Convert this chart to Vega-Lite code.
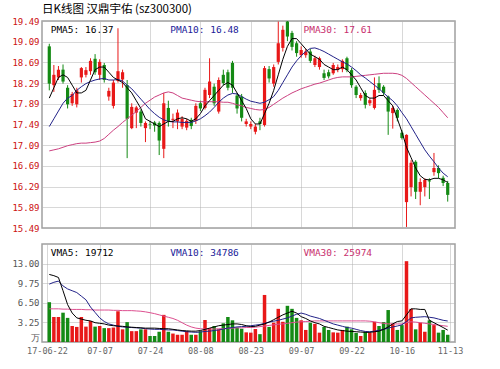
{
"$schema": "https://vega.github.io/schema/vega-lite/v6.json",
"padding": {"left": 11, "top": 2, "right": 0, "bottom": 0},
"background": "#ffffff",
"datasets": {
"k": [
{"i":0,"o":19.0,"h":19.05,"l":18.15,"c":18.28,"v":6.6,"m5":18.0,"m10":17.45,"m30":16.98,"vm5":11.2,"vm10":9.6,"vm30":5.5},
{"i":1,"o":18.25,"h":18.64,"l":18.12,"c":18.45,"v":4.15,"m5":18.2,"m10":17.6,"m30":17.0,"vm5":11.0,"vm10":9.9,"vm30":5.5},
{"i":2,"o":18.4,"h":18.62,"l":18.35,"c":18.55,"v":4.15,"m5":18.4,"m10":17.75,"m30":17.02,"vm5":10.7,"vm10":10.1,"vm30":5.5},
{"i":3,"o":18.55,"h":18.65,"l":18.28,"c":18.32,"v":4.86,"m5":18.45,"m10":17.9,"m30":17.05,"vm5":8.5,"vm10":9.3,"vm30":5.45},
{"i":4,"o":18.2,"h":18.25,"l":17.8,"c":17.88,"v":4.0,"m5":18.4,"m10":18.0,"m30":17.08,"vm5":6.2,"vm10":8.8,"vm30":5.45},
{"i":5,"o":17.9,"h":18.12,"l":17.85,"c":18.08,"v":2.65,"m5":18.25,"m10":18.05,"m30":17.1,"vm5":4.8,"vm10":8.5,"vm30":5.4},
{"i":6,"o":17.88,"h":18.2,"l":17.82,"c":18.15,"v":2.5,"m5":18.1,"m10":18.15,"m30":17.12,"vm5":4.0,"vm10":8.2,"vm30":5.4},
{"i":7,"o":18.4,"h":18.6,"l":18.3,"c":18.58,"v":4.15,"m5":18.1,"m10":18.22,"m30":17.13,"vm5":3.8,"vm10":7.6,"vm30":5.4},
{"i":8,"o":18.45,"h":18.6,"l":18.4,"c":18.54,"v":2.55,"m5":18.15,"m10":18.28,"m30":17.13,"vm5":3.6,"vm10":7.0,"vm30":5.35},
{"i":9,"o":18.52,"h":18.77,"l":18.45,"c":18.72,"v":3.48,"m5":18.35,"m10":18.32,"m30":17.14,"vm5":3.5,"vm10":5.8,"vm30":5.35},
{"i":10,"o":18.76,"h":18.85,"l":18.45,"c":18.5,"v":2.55,"m5":18.55,"m10":18.35,"m30":17.15,"vm5":3.2,"vm10":4.9,"vm30":5.3},
{"i":11,"o":18.45,"h":18.75,"l":18.35,"c":18.7,"v":2.65,"m5":18.6,"m10":18.37,"m30":17.17,"vm5":3.1,"vm10":4.0,"vm30":5.3},
{"i":12,"o":18.64,"h":18.68,"l":18.3,"c":18.35,"v":2.3,"m5":18.6,"m10":18.38,"m30":17.22,"vm5":3.0,"vm10":3.4,"vm30":5.3},
{"i":13,"o":18.03,"h":18.2,"l":17.95,"c":18.14,"v":2.3,"m5":18.5,"m10":18.35,"m30":17.3,"vm5":2.8,"vm10":3.0,"vm30":5.3},
{"i":14,"o":17.85,"h":18.35,"l":17.8,"c":18.3,"v":2.4,"m5":18.4,"m10":18.35,"m30":17.38,"vm5":2.7,"vm10":2.8,"vm30":5.25},
{"i":15,"o":18.33,"h":19.35,"l":18.3,"c":18.52,"v":5.1,"m5":18.35,"m10":18.36,"m30":17.45,"vm5":2.65,"vm10":2.6,"vm30":5.25},
{"i":16,"o":18.36,"h":18.55,"l":18.2,"c":18.5,"v":2.1,"m5":18.3,"m10":18.33,"m30":17.53,"vm5":2.6,"vm10":2.5,"vm30":5.2},
{"i":17,"o":18.25,"h":18.35,"l":16.84,"c":17.6,"v":3.3,"m5":18.2,"m10":18.25,"m30":17.6,"vm5":2.5,"vm10":2.45,"vm30":5.2},
{"i":18,"o":17.42,"h":17.9,"l":17.4,"c":17.83,"v":1.8,"m5":18.1,"m10":18.18,"m30":17.67,"vm5":2.45,"vm10":2.4,"vm30":5.2},
{"i":19,"o":17.72,"h":17.85,"l":17.42,"c":17.82,"v":1.8,"m5":17.95,"m10":18.08,"m30":17.74,"vm5":2.4,"vm10":2.35,"vm30":5.15},
{"i":20,"o":17.74,"h":17.78,"l":17.45,"c":17.52,"v":2.1,"m5":17.8,"m10":17.98,"m30":17.82,"vm5":2.35,"vm10":2.3,"vm30":5.1},
{"i":21,"o":17.42,"h":17.55,"l":17.15,"c":17.52,"v":2.1,"m5":17.6,"m10":17.88,"m30":17.9,"vm5":2.3,"vm10":2.2,"vm30":5.0},
{"i":22,"o":17.5,"h":17.56,"l":17.4,"c":17.49,"v":1.0,"m5":17.55,"m10":17.78,"m30":17.96,"vm5":2.3,"vm10":2.15,"vm30":4.86},
{"i":23,"o":17.53,"h":17.56,"l":17.35,"c":17.47,"v":1.0,"m5":17.5,"m10":17.7,"m30":18.02,"vm5":2.3,"vm10":2.1,"vm30":4.7},
{"i":24,"o":17.52,"h":17.55,"l":16.9,"c":17.18,"v":1.7,"m5":17.45,"m10":17.63,"m30":18.06,"vm5":2.25,"vm10":2.1,"vm30":4.5},
{"i":25,"o":17.02,"h":18.1,"l":16.84,"c":17.9,"v":4.5,"m5":17.5,"m10":17.58,"m30":18.1,"vm5":2.2,"vm10":2.05,"vm30":4.3},
{"i":26,"o":17.81,"h":17.95,"l":17.45,"c":17.56,"v":1.7,"m5":17.55,"m10":17.55,"m30":18.12,"vm5":2.2,"vm10":2.0,"vm30":4.1},
{"i":27,"o":17.58,"h":17.7,"l":17.42,"c":17.6,"v":1.4,"m5":17.55,"m10":17.54,"m30":18.1,"vm5":2.1,"vm10":2.0,"vm30":3.9},
{"i":28,"o":17.55,"h":17.78,"l":17.4,"c":17.72,"v":1.2,"m5":17.6,"m10":17.54,"m30":18.05,"vm5":2.0,"vm10":1.9,"vm30":3.6},
{"i":29,"o":17.45,"h":17.65,"l":17.4,"c":17.6,"v":1.2,"m5":17.62,"m10":17.53,"m30":18.0,"vm5":1.9,"vm10":1.8,"vm30":3.2},
{"i":30,"o":17.43,"h":17.6,"l":17.38,"c":17.56,"v":1.8,"m5":17.6,"m10":17.53,"m30":17.98,"vm5":1.85,"vm10":1.7,"vm30":2.8},
{"i":31,"o":17.58,"h":17.62,"l":17.4,"c":17.46,"v":1.2,"m5":17.55,"m10":17.53,"m30":17.96,"vm5":1.8,"vm10":1.65,"vm30":2.5},
{"i":32,"o":17.56,"h":17.9,"l":17.5,"c":17.85,"v":1.2,"m5":17.6,"m10":17.56,"m30":17.94,"vm5":1.8,"vm10":1.6,"vm30":2.3},
{"i":33,"o":17.9,"h":17.95,"l":17.75,"c":17.8,"v":1.8,"m5":17.7,"m10":17.6,"m30":17.93,"vm5":1.9,"vm10":1.65,"vm30":2.2},
{"i":34,"o":17.81,"h":18.2,"l":17.78,"c":18.16,"v":3.65,"m5":17.85,"m10":17.66,"m30":17.93,"vm5":2.1,"vm10":1.75,"vm30":2.15},
{"i":35,"o":18.06,"h":18.77,"l":18.0,"c":18.32,"v":2.3,"m5":17.95,"m10":17.73,"m30":17.93,"vm5":2.3,"vm10":1.8,"vm30":2.15},
{"i":36,"o":18.22,"h":18.28,"l":17.85,"c":17.9,"v":2.65,"m5":18.05,"m10":17.82,"m30":17.93,"vm5":2.5,"vm10":1.9,"vm30":2.15},
{"i":37,"o":17.74,"h":18.4,"l":17.7,"c":18.35,"v":2.1,"m5":18.15,"m10":17.92,"m30":17.93,"vm5":2.7,"vm10":2.0,"vm30":2.2},
{"i":38,"o":18.45,"h":18.55,"l":18.25,"c":18.29,"v":3.1,"m5":18.25,"m10":18.0,"m30":17.92,"vm5":2.8,"vm10":2.15,"vm30":2.2},
{"i":39,"o":18.5,"h":18.55,"l":18.15,"c":18.2,"v":4.15,"m5":18.3,"m10":18.06,"m30":17.92,"vm5":2.9,"vm10":2.3,"vm30":2.25},
{"i":40,"o":18.68,"h":18.72,"l":18.1,"c":18.2,"v":3.6,"m5":18.25,"m10":18.09,"m30":17.9,"vm5":3.0,"vm10":2.4,"vm30":2.3},
{"i":41,"o":18.05,"h":18.1,"l":17.7,"c":17.8,"v":2.4,"m5":18.1,"m10":18.08,"m30":17.87,"vm5":3.0,"vm10":2.5,"vm30":2.35},
{"i":42,"o":18.03,"h":18.08,"l":17.55,"c":17.62,"v":2.2,"m5":17.95,"m10":18.03,"m30":17.85,"vm5":2.9,"vm10":2.55,"vm30":2.35},
{"i":43,"o":17.5,"h":17.6,"l":17.45,"c":17.55,"v":1.6,"m5":17.8,"m10":17.98,"m30":17.82,"vm5":2.7,"vm10":2.6,"vm30":2.4},
{"i":44,"o":17.45,"h":17.55,"l":17.4,"c":17.5,"v":1.55,"m5":17.6,"m10":17.94,"m30":17.8,"vm5":2.55,"vm10":2.7,"vm30":2.4},
{"i":45,"o":17.35,"h":17.5,"l":17.3,"c":17.45,"v":2.15,"m5":17.5,"m10":17.92,"m30":17.78,"vm5":2.6,"vm10":2.8,"vm30":2.45},
{"i":46,"o":17.55,"h":17.62,"l":17.38,"c":17.5,"v":1.3,"m5":17.5,"m10":17.9,"m30":17.77,"vm5":2.8,"vm10":2.9,"vm30":2.55},
{"i":47,"o":17.48,"h":18.62,"l":17.45,"c":18.58,"v":7.8,"m5":17.7,"m10":17.92,"m30":17.78,"vm5":3.0,"vm10":3.1,"vm30":2.65},
{"i":48,"o":18.56,"h":18.62,"l":18.3,"c":18.38,"v":2.5,"m5":17.9,"m10":17.97,"m30":17.82,"vm5":3.3,"vm10":3.3,"vm30":2.75},
{"i":49,"o":18.28,"h":18.65,"l":18.22,"c":18.6,"v":3.2,"m5":18.15,"m10":18.03,"m30":17.88,"vm5":3.7,"vm10":3.45,"vm30":2.85},
{"i":50,"o":18.7,"h":19.48,"l":18.65,"c":19.06,"v":5.5,"m5":18.45,"m10":18.15,"m30":17.94,"vm5":4.1,"vm10":3.6,"vm30":2.95},
{"i":51,"o":18.97,"h":19.4,"l":18.9,"c":19.32,"v":3.35,"m5":18.75,"m10":18.3,"m30":18.0,"vm5":4.5,"vm10":3.8,"vm30":3.0},
{"i":52,"o":19.48,"h":19.49,"l":19.1,"c":19.19,"v":6.0,"m5":19.0,"m10":18.45,"m30":18.05,"vm5":4.8,"vm10":4.0,"vm30":3.1},
{"i":53,"o":19.26,"h":19.3,"l":18.92,"c":18.99,"v":5.5,"m5":19.15,"m10":18.6,"m30":18.1,"vm5":5.1,"vm10":4.3,"vm30":3.2},
{"i":54,"o":19.06,"h":19.1,"l":18.8,"c":18.87,"v":4.0,"m5":19.15,"m10":18.72,"m30":18.14,"vm5":4.8,"vm10":4.6,"vm30":3.3},
{"i":55,"o":18.83,"h":19.0,"l":18.78,"c":18.93,"v":3.6,"m5":19.05,"m10":18.82,"m30":18.18,"vm5":4.2,"vm10":4.8,"vm30":3.35},
{"i":56,"o":18.83,"h":18.95,"l":18.78,"c":18.9,"v":2.0,"m5":18.95,"m10":18.9,"m30":18.21,"vm5":3.9,"vm10":4.6,"vm30":3.4},
{"i":57,"o":18.9,"h":18.95,"l":18.68,"c":18.72,"v":3.2,"m5":18.85,"m10":18.96,"m30":18.24,"vm5":3.5,"vm10":4.3,"vm30":3.45},
{"i":58,"o":18.64,"h":18.82,"l":18.6,"c":18.77,"v":3.0,"m5":18.8,"m10":18.97,"m30":18.27,"vm5":3.2,"vm10":4.1,"vm30":3.5},
{"i":59,"o":18.6,"h":18.8,"l":18.55,"c":18.77,"v":1.55,"m5":18.75,"m10":18.94,"m30":18.29,"vm5":3.0,"vm10":3.9,"vm30":3.5},
{"i":60,"o":18.48,"h":18.55,"l":18.35,"c":18.39,"v":2.5,"m5":18.65,"m10":18.9,"m30":18.32,"vm5":2.6,"vm10":3.6,"vm30":3.5},
{"i":61,"o":18.5,"h":18.55,"l":18.38,"c":18.42,"v":2.0,"m5":18.6,"m10":18.85,"m30":18.35,"vm5":2.4,"vm10":3.3,"vm30":3.5},
{"i":62,"o":18.48,"h":18.68,"l":18.45,"c":18.64,"v":1.6,"m5":18.55,"m10":18.8,"m30":18.38,"vm5":2.2,"vm10":3.0,"vm30":3.5},
{"i":63,"o":18.55,"h":18.65,"l":18.5,"c":18.6,"v":1.55,"m5":18.55,"m10":18.75,"m30":18.4,"vm5":2.0,"vm10":2.8,"vm30":3.5},
{"i":64,"o":18.56,"h":18.75,"l":18.5,"c":18.72,"v":2.0,"m5":18.6,"m10":18.7,"m30":18.41,"vm5":1.9,"vm10":2.6,"vm30":3.5},
{"i":65,"o":18.77,"h":18.8,"l":18.5,"c":18.54,"v":2.55,"m5":18.55,"m10":18.66,"m30":18.41,"vm5":1.8,"vm10":2.4,"vm30":3.5},
{"i":66,"o":18.54,"h":18.58,"l":18.2,"c":18.25,"v":2.1,"m5":18.45,"m10":18.6,"m30":18.41,"vm5":1.75,"vm10":2.3,"vm30":3.5},
{"i":67,"o":18.22,"h":18.25,"l":18.0,"c":18.06,"v":1.5,"m5":18.35,"m10":18.53,"m30":18.42,"vm5":1.7,"vm10":2.1,"vm30":3.5},
{"i":68,"o":18.0,"h":18.1,"l":17.95,"c":18.06,"v":1.0,"m5":18.2,"m10":18.45,"m30":18.43,"vm5":1.65,"vm10":1.9,"vm30":3.5},
{"i":69,"o":18.1,"h":18.15,"l":17.8,"c":17.87,"v":1.7,"m5":18.05,"m10":18.39,"m30":18.44,"vm5":1.6,"vm10":1.75,"vm30":3.5},
{"i":70,"o":17.9,"h":18.0,"l":17.85,"c":17.96,"v":1.55,"m5":18.0,"m10":18.32,"m30":18.45,"vm5":1.6,"vm10":1.7,"vm30":3.45},
{"i":71,"o":17.81,"h":18.4,"l":17.78,"c":18.16,"v":3.35,"m5":18.0,"m10":18.25,"m30":18.46,"vm5":1.7,"vm10":1.8,"vm30":3.35},
{"i":72,"o":18.29,"h":18.42,"l":18.1,"c":18.16,"v":2.65,"m5":18.05,"m10":18.18,"m30":18.47,"vm5":1.8,"vm10":1.95,"vm30":3.2},
{"i":73,"o":18.22,"h":18.25,"l":18.05,"c":18.1,"v":3.3,"m5":18.05,"m10":18.1,"m30":18.48,"vm5":2.1,"vm10":2.1,"vm30":3.1},
{"i":74,"o":18.03,"h":18.05,"l":17.29,"c":17.74,"v":5.3,"m5":17.95,"m10":18.02,"m30":18.48,"vm5":2.5,"vm10":2.3,"vm30":3.0},
{"i":75,"o":17.71,"h":17.85,"l":17.41,"c":17.81,"v":3.05,"m5":17.85,"m10":17.95,"m30":18.48,"vm5":3.0,"vm10":2.5,"vm30":3.0},
{"i":76,"o":17.77,"h":17.8,"l":17.55,"c":17.62,"v":2.0,"m5":17.6,"m10":17.85,"m30":18.47,"vm5":3.4,"vm10":2.65,"vm30":3.0},
{"i":77,"o":17.33,"h":17.38,"l":17.2,"c":17.23,"v":2.8,"m5":17.35,"m10":17.72,"m30":18.44,"vm5":3.5,"vm10":2.85,"vm30":3.0},
{"i":78,"o":15.99,"h":17.3,"l":15.51,"c":17.29,"v":13.4,"m5":17.05,"m10":17.6,"m30":18.38,"vm5":4.5,"vm10":3.4,"vm30":3.2},
{"i":79,"o":16.28,"h":16.8,"l":16.1,"c":16.75,"v":5.5,"m5":16.85,"m10":17.45,"m30":18.3,"vm5":5.5,"vm10":4.0,"vm30":3.35},
{"i":80,"o":16.77,"h":16.8,"l":16.05,"c":16.19,"v":2.1,"m5":16.65,"m10":17.3,"m30":18.22,"vm5":5.5,"vm10":4.1,"vm30":3.3},
{"i":81,"o":16.19,"h":16.45,"l":15.93,"c":16.38,"v":3.2,"m5":16.5,"m10":17.15,"m30":18.14,"vm5":5.4,"vm10":4.15,"vm30":3.2},
{"i":82,"o":16.28,"h":16.45,"l":16.1,"c":16.42,"v":1.7,"m5":16.43,"m10":17.0,"m30":18.06,"vm5":5.4,"vm10":4.2,"vm30":3.1},
{"i":83,"o":16.41,"h":16.45,"l":16.05,"c":16.39,"v":3.6,"m5":16.42,"m10":16.88,"m30":17.98,"vm5":3.6,"vm10":4.1,"vm30":3.0},
{"i":84,"o":16.57,"h":16.94,"l":16.5,"c":16.65,"v":2.8,"m5":16.45,"m10":16.77,"m30":17.9,"vm5":3.2,"vm10":4.0,"vm30":2.9},
{"i":85,"o":16.65,"h":16.7,"l":16.45,"c":16.55,"v":1.55,"m5":16.45,"m10":16.65,"m30":17.82,"vm5":2.8,"vm10":3.8,"vm30":2.8},
{"i":86,"o":16.46,"h":16.5,"l":16.3,"c":16.36,"v":2.0,"m5":16.42,"m10":16.55,"m30":17.72,"vm5":2.4,"vm10":3.6,"vm30":2.7},
{"i":87,"o":16.36,"h":16.4,"l":16.0,"c":16.13,"v":1.2,"m5":16.37,"m10":16.48,"m30":17.62,"vm5":1.97,"vm10":3.48,"vm30":2.6}
],
"plab": [
{"name":"PMA5","label":"PMA5: 16.37","i":0.3,"p":19.32},
{"name":"PMA10","label":"PMA10: 16.48","i":26.4,"p":19.32},
{"name":"PMA30","label":"PMA30: 17.61","i":55.5,"p":19.32}
],
"vlab": [
{"name":"VMA5","label":"VMA5: 19712","i":0.3,"v":14.75},
{"name":"VMA10","label":"VMA10: 34786","i":26.4,"v":14.75},
{"name":"VMA30","label":"VMA30: 25974","i":55.5,"v":14.75}
]
},
"config": {
"view": {"stroke": "#a0a0a0", "strokeWidth": 1.5},
"axis": {"labelFont": "DejaVu Sans Mono", "labelFontSize": 9, "grid": true, "gridColor": "#b0b0b0", "gridDash": [1, 1], "ticks": false, "domain": false, "title": null, "labelPadding": 3, "labelOverlap": false, "tickCount": 40},
"concat": {"spacing": 9}
},
"vconcat": [
{
"width": 413, "height": 207,
"title": {"text": "日K线图 汉鼎宇佑 (sz300300)", "anchor": "start", "frame": "group", "font": "Noto Sans CJK SC", "fontSize": 11.5, "fontWeight": "normal", "color": "#000000", "offset": 2},
"layer": [
{"data": {"name": "k"}, "mark": {"type": "rule", "strokeWidth": 1},
 "encoding": {
  "x": {"field": "i", "type": "quantitative", "scale": {"domain": [-0.5, 87.5], "nice": false, "zero": false}, "axis": {"values": [11, 22, 33, 44, 55, 66, 77], "tickCount": 40, "labels": false, "labelPadding": 0}},
  "y": {"field": "l", "type": "quantitative", "scale": {"domain": [15.49, 19.49], "nice": false, "zero": false}, "axis": {"values": [15.49, 15.89, 16.29, 16.69, 17.09, 17.49, 17.89, 18.29, 18.69, 19.09, 19.49], "tickCount": 40, "format": ".2f", "labelColor": "#cc1010", "labelOverlap": false}},
  "y2": {"field": "h"},
  "color": {"condition": {"test": "datum.c >= datum.o", "value": "#e81818"}, "value": "#148a14"}
 }},
{"data": {"name": "k"}, "mark": {"type": "bar", "width": 3.2},
 "encoding": {
  "x": {"field": "i", "type": "quantitative"},
  "y": {"field": "o", "type": "quantitative"},
  "y2": {"field": "c"},
  "color": {"condition": {"test": "datum.c >= datum.o", "value": "#e81818"}, "value": "#148a14"}
 }},
{"data": {"name": "k"}, "mark": {"type": "line", "strokeWidth": 1, "color": "#cc4080"},
 "encoding": {"x": {"field": "i", "type": "quantitative"}, "y": {"field": "m30", "type": "quantitative"}}},
{"data": {"name": "k"}, "mark": {"type": "line", "strokeWidth": 1, "color": "#222288"},
 "encoding": {"x": {"field": "i", "type": "quantitative"}, "y": {"field": "m10", "type": "quantitative"}}},
{"data": {"name": "k"}, "mark": {"type": "line", "strokeWidth": 1, "color": "#000000"},
 "encoding": {"x": {"field": "i", "type": "quantitative"}, "y": {"field": "m5", "type": "quantitative"}}},
{"data": {"name": "plab"}, "mark": {"type": "text", "align": "left", "baseline": "middle", "font": "DejaVu Sans Mono", "fontSize": 9.5},
 "encoding": {
  "x": {"field": "i", "type": "quantitative"},
  "y": {"field": "p", "type": "quantitative"},
  "text": {"field": "label"},
  "color": {"field": "name", "type": "nominal", "scale": {"domain": ["PMA5", "PMA10", "PMA30"], "range": ["#000000", "#222299", "#c8306e"]}, "legend": null}
 }}
]
},
{
"width": 413, "height": 98,
"layer": [
{"data": {"name": "k"}, "mark": {"type": "bar", "width": 3.5},
 "encoding": {
  "x": {"field": "i", "type": "quantitative", "scale": {"domain": [-0.5, 87.5], "nice": false, "zero": false},
   "axis": {"values": [-0.5, 11, 22, 33, 44, 55, 66, 77, 87.5], "tickCount": 40, "labelExpr": "datum.value < 0 ? '17-06-22' : datum.value > 87 ? '11-13' : ['07-07','07-24','08-08','08-23','09-07','09-22','10-16'][round(datum.value/11)-1]", "labelColor": "#666666", "labelFontSize": 8.5, "labelPadding": 4, "labelFlush": false, "labelOverlap": false}},
  "y": {"field": "v", "type": "quantitative", "scale": {"domain": [0, 16.25], "nice": false},
   "axis": {"values": [0, 3.25, 6.5, 9.75, 13], "tickCount": 40, "labelExpr": "datum.value == 0 ? '万' : format(datum.value, '.2f')", "labelColor": "#555555", "labelOverlap": false, "labelBaseline": {"condition": {"test": "datum.value == 0", "value": "bottom"}, "value": "middle"}}},
  "color": {"condition": {"test": "datum.c >= datum.o", "value": "#e81818"}, "value": "#148a14"}
 }},
{"data": {"name": "k"}, "mark": {"type": "line", "strokeWidth": 1, "color": "#dd5090"},
 "encoding": {"x": {"field": "i", "type": "quantitative"}, "y": {"field": "vm30", "type": "quantitative"}}},
{"data": {"name": "k"}, "mark": {"type": "line", "strokeWidth": 1, "color": "#222288"},
 "encoding": {"x": {"field": "i", "type": "quantitative"}, "y": {"field": "vm10", "type": "quantitative"}}},
{"data": {"name": "k"}, "mark": {"type": "line", "strokeWidth": 1, "color": "#000000"},
 "encoding": {"x": {"field": "i", "type": "quantitative"}, "y": {"field": "vm5", "type": "quantitative"}}},
{"data": {"name": "vlab"}, "mark": {"type": "text", "align": "left", "baseline": "middle", "font": "DejaVu Sans Mono", "fontSize": 9.5},
 "encoding": {
  "x": {"field": "i", "type": "quantitative"},
  "y": {"field": "v", "type": "quantitative"},
  "text": {"field": "label"},
  "color": {"field": "name", "type": "nominal", "scale": {"domain": ["VMA5", "VMA10", "VMA30"], "range": ["#000000", "#222299", "#c8306e"]}, "legend": null}
 }}
]
}
]
}
